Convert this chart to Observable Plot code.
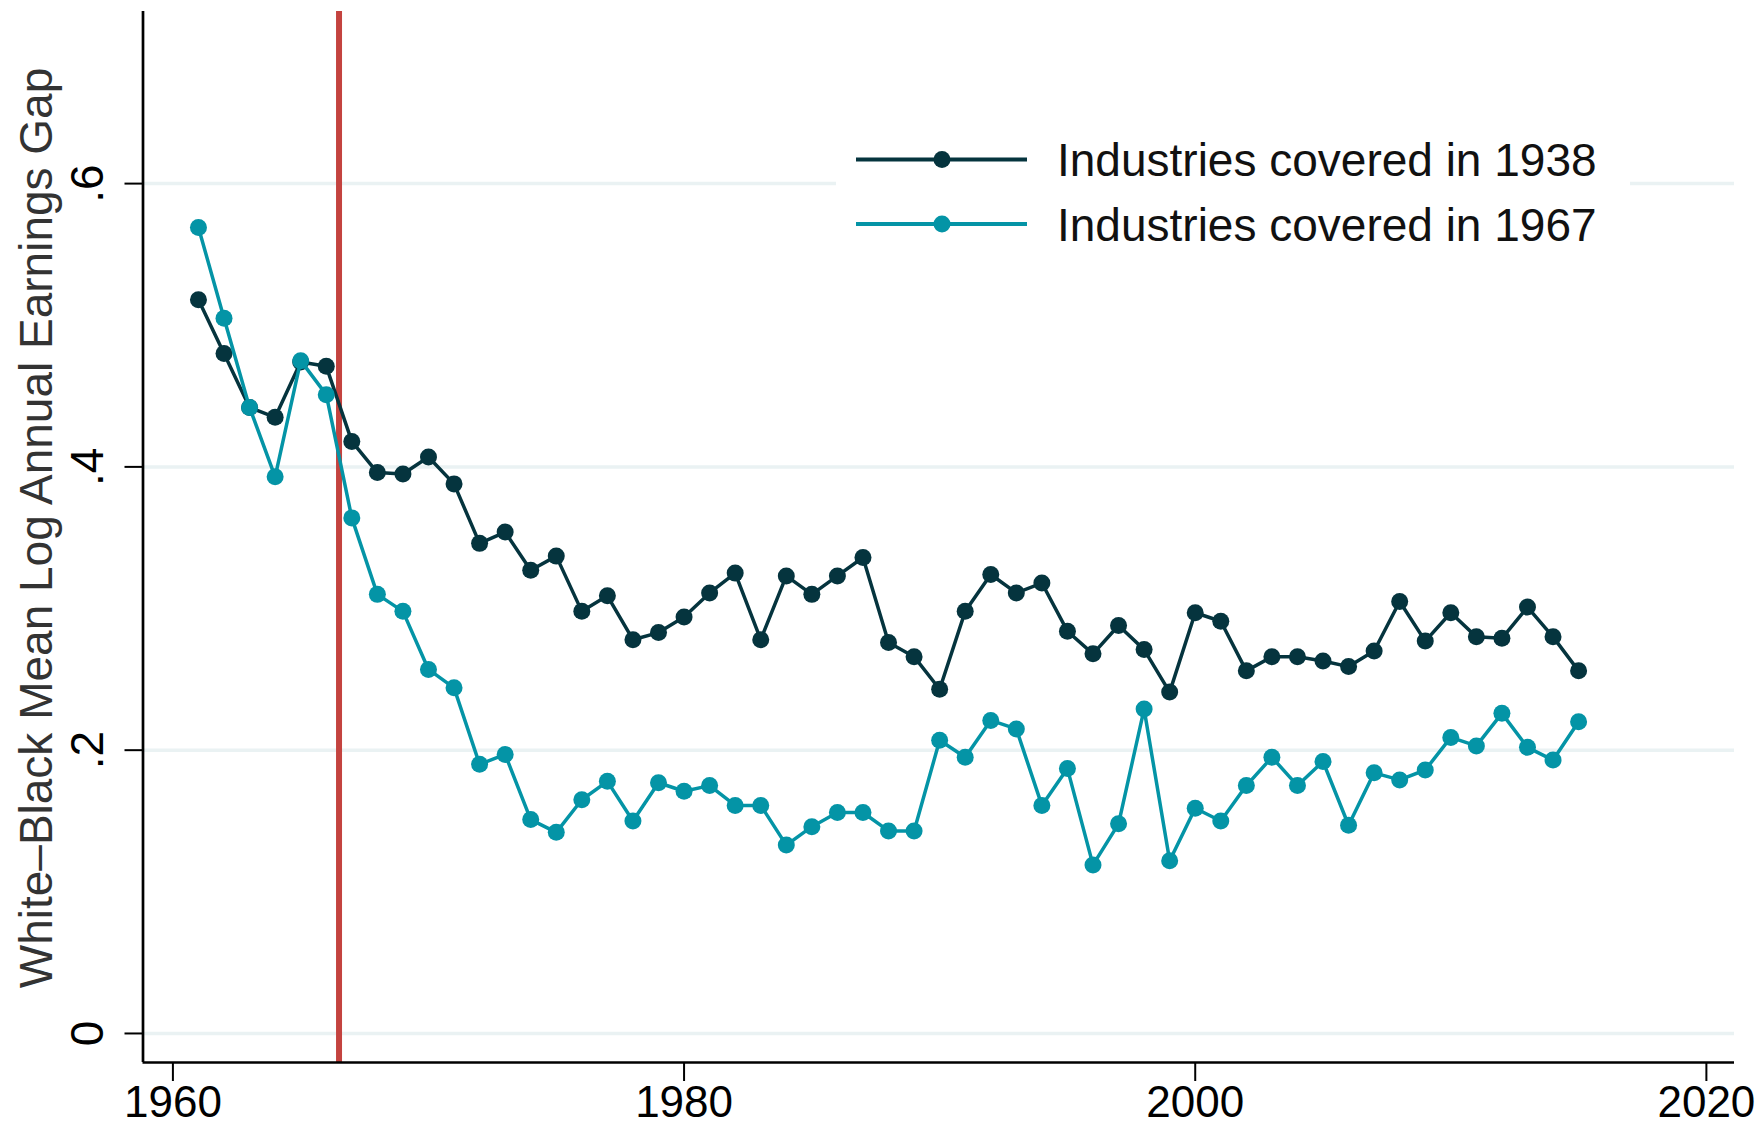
<!DOCTYPE html>
<html>
<head>
<meta charset="utf-8">
<script src="https://cdn.jsdelivr.net/npm/d3@7"></script>
<script src="https://cdn.jsdelivr.net/npm/@observablehq/plot@0.6"></script>
<style>
  html, body { margin: 0; padding: 0; background: #fff; }
  #wrap { position: relative; width: 1760px; height: 1128px; overflow: hidden; font-family: "Liberation Sans", Arial, Helvetica, sans-serif; }
  #legend { position: absolute; left: 0; top: 0; }
</style>
</head>
<body>
<div id="wrap"></div>
<script>
// ---------- data ----------
const years = [1961,1962,1963,1964,1965,1966,1967,1968,1969,1970,
  1971,1972,1973,1974,1975,1976,1977,1978,1979,1980,
  1981,1982,1983,1984,1985,1986,1987,1988,1989,1990,
  1991,1992,1993,1994,1995,1996,1997,1998,1999,2000,
  2001,2002,2003,2004,2005,2006,2007,2008,2009,2010,
  2011,2012,2013,2014,2015];

const covered1938 = [0.518,0.480,0.442,0.435,0.474,0.471,0.418,0.396,0.395,0.407,
  0.388,0.346,0.354,0.327,0.337,0.298,0.309,0.278,0.283,0.294,
  0.311,0.325,0.278,0.323,0.310,0.323,0.336,0.276,0.266,0.243,
  0.298,0.324,0.311,0.318,0.284,0.268,0.288,0.271,0.241,0.297,
  0.291,0.256,0.266,0.266,0.263,0.259,0.270,0.305,0.277,0.297,
  0.280,0.279,0.301,0.280,0.256];

const covered1967 = [0.569,0.505,0.442,0.393,0.475,0.451,0.364,0.310,0.298,0.257,
  0.244,0.190,0.197,0.151,0.142,0.165,0.178,0.150,0.177,0.171,
  0.175,0.161,0.161,0.133,0.146,0.156,0.156,0.143,0.143,0.207,
  0.195,0.221,0.215,0.161,0.187,0.119,0.148,0.229,0.122,0.159,
  0.150,0.175,0.195,0.175,0.192,0.147,0.184,0.179,0.186,0.209,
  0.203,0.226,0.202,0.193,0.220];

const seriesNames = ["Industries covered in 1938", "Industries covered in 1967"];
const seriesColors = ["#05343e", "#0494a6"];
const policyYear = [1966.5];
const xTicks = [1960, 1980, 2000, 2020];
const yTicks = [0, 0.2, 0.4, 0.6];
const yTickLabels = ["0", ".2", ".4", ".6"];
const xDomain = [1958.83, 2021.1];
const yDomain = [-0.0205, 0.7215];
const yTitle = "White\u2013Black Mean Log Annual Earnings Gap";

// ---------- table ----------
const rows = [];
years.forEach((yr, i) => {
  rows.push({year: yr, gap: covered1938[i], series: seriesNames[0]});
  rows.push({year: yr, gap: covered1967[i], series: seriesNames[1]});
});
const s0 = rows.filter(d => d.series === seriesNames[0]);
const s1 = rows.filter(d => d.series === seriesNames[1]);

const FONT = "\"Liberation Sans\", Arial, Helvetica, sans-serif";

const chart = Plot.plot({
  width: 1760,
  height: 1128,
  marginLeft: 142.5,
  marginRight: 26,
  marginTop: 11,
  marginBottom: 66,
  style: {fontFamily: FONT, color: "#000", background: "#fff", overflow: "visible"},
  x: {domain: xDomain, label: null},
  y: {domain: yDomain, label: null},
  color: {domain: seriesNames, range: seriesColors},
  marks: [
    Plot.ruleY(yTicks, {stroke: "#eaf2f3", strokeWidth: 3.5}),
    Plot.ruleX(policyYear, {stroke: "#c4433f", strokeWidth: 6}),
    Plot.line(s0, {x: "year", y: "gap", stroke: "series", strokeWidth: 3.5}),
    Plot.dot(s0, {x: "year", y: "gap", fill: "series", r: 8.5}),
    Plot.line(s1, {x: "year", y: "gap", stroke: "series", strokeWidth: 3.5}),
    Plot.dot(s1, {x: "year", y: "gap", fill: "series", r: 8.5}),
    Plot.ruleX([xDomain[0]], {stroke: "#000", strokeWidth: 2.7}),
    Plot.ruleY([yDomain[0]], {stroke: "#000", strokeWidth: 2.7}),
    Plot.axisX({ticks: xTicks, tickFormat: d => String(d), tickSize: 19, tickPadding: 4,
      fontSize: 44, strokeWidth: 2, label: null}),
    Plot.axisY({ticks: yTicks, tickFormat: d => yTickLabels[yTicks.indexOf(d)], tickSize: 18,
      tickPadding: 22, tickRotate: -90, fontSize: 46, strokeWidth: 2, label: null}),
    Plot.text([yTitle], {text: d => d, frameAnchor: "left", dx: -105.5, dy: -9, rotate: -90,
      fontSize: 46, lineAnchor: "middle", textAnchor: "middle", fill: "#333"})
  ]
});

const wrap = document.getElementById("wrap");
wrap.appendChild(chart);

// ---------- legend (inside plot area, as in the original) ----------
const NS = "http://www.w3.org/2000/svg";
const leg = document.createElementNS(NS, "svg");
leg.setAttribute("id", "legend");
leg.setAttribute("width", 1760);
leg.setAttribute("height", 300);
const bg = document.createElementNS(NS, "rect");
bg.setAttribute("x", 836); bg.setAttribute("y", 112);
bg.setAttribute("width", 794); bg.setAttribute("height", 150);
bg.setAttribute("fill", "#fff");
leg.appendChild(bg);
const rowY = [159.5, 224];
seriesNames.forEach((name, i) => {
  const y = rowY[i];
  const ln = document.createElementNS(NS, "line");
  ln.setAttribute("x1", 856); ln.setAttribute("x2", 1027);
  ln.setAttribute("y1", y); ln.setAttribute("y2", y);
  ln.setAttribute("stroke", seriesColors[i]); ln.setAttribute("stroke-width", 4);
  leg.appendChild(ln);
  const c = document.createElementNS(NS, "circle");
  c.setAttribute("cx", 942); c.setAttribute("cy", y); c.setAttribute("r", 8.5);
  c.setAttribute("fill", seriesColors[i]);
  leg.appendChild(c);
  const t = document.createElementNS(NS, "text");
  t.setAttribute("x", 1057); t.setAttribute("y", y + 16.5);
  t.setAttribute("font-size", 46);
  t.setAttribute("font-family", FONT);
  t.setAttribute("fill", "#111");
  t.textContent = name;
  leg.appendChild(t);
});
wrap.appendChild(leg);
</script>
</body>
</html>
